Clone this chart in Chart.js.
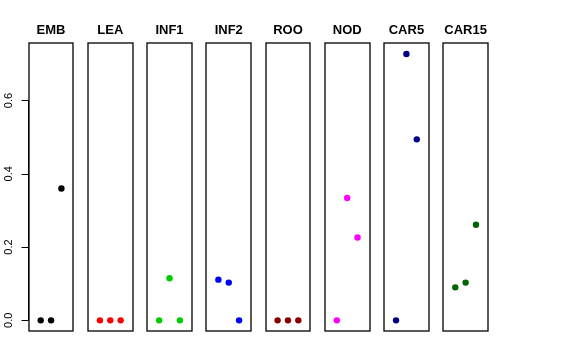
<!DOCTYPE html>
<html>
<head>
<meta charset="utf-8">
<script src="https://cdn.jsdelivr.net/npm/chart.js@4.4.1/dist/chart.umd.min.js"></script>
<style>
html,body{margin:0;padding:0;background:#fff;}
#wrap{position:relative;width:576px;height:360px;}
</style>
</head>
<body>
<div id="wrap"><canvas id="c" width="576" height="360"></canvas></div>
<script>
const panels = ['EMB','LEA','INF1','INF2','ROO','NOD','CAR5','CAR15'];
const colors = ['#000000','#FF0000','#00CD00','#0000FF','#8B0000','#FF00FF','#00008B','#006400'];
const EMB   = [0, 0, 0.36];
const LEA   = [0, 0, 0];
const INF1  = [0, 0.115, 0];
const INF2  = [0.111, 0.103, 0];
const ROO   = [0, 0, 0];
const NOD   = [0, 0.334, 0.226];
const CAR5  = [0, 0.727, 0.494];
const CAR15 = [0.09, 0.103, 0.261];
const yTicks = [0, 0.2, 0.4, 0.6];
const yTickLabels = ['0.0', '0.2', '0.4', '0.6'];

const series = [EMB, LEA, INF1, INF2, ROO, NOD, CAR5, CAR15];
const PITCH = 5.72;      // panel pitch in x units
const XLO = -0.16, XHI = 4.16; // panel x range
const yMin = -0.0291, yMax = 0.7561;

const datasets = series.map((vals, i) => ({
  label: panels[i],
  data: vals.map((v, k) => ({x: i * PITCH + (k + 1), y: v})),
  backgroundColor: colors[i],
  borderColor: colors[i],
  borderWidth: 0,
  pointRadius: 3.2,
  pointHoverRadius: 3.2,
  showLine: false
}));

const panelPlugin = {
  id: 'panels',
  afterDatasetsDraw(chart) {
    const ctx = chart.ctx;
    const xs = chart.scales.x, ys = chart.scales.y;
    const top = ys.getPixelForValue(yMax), bot = ys.getPixelForValue(yMin);
    ctx.save();
    ctx.strokeStyle = '#000';
    ctx.lineWidth = 1.3;
    panels.forEach((p, i) => {
      const l = xs.getPixelForValue(i * PITCH + XLO);
      const r = xs.getPixelForValue(i * PITCH + XHI);
      ctx.strokeRect(Math.round(l), Math.round(top), Math.round(r) - Math.round(l), Math.round(bot) - Math.round(top));
      ctx.fillStyle = '#000';
      ctx.font = 'bold 13px "Liberation Sans", Arial, sans-serif';
      ctx.textAlign = 'center';
      ctx.textBaseline = 'alphabetic';
      ctx.fillText(p, (l + r) / 2, 34);
    });
    const ax = Math.round(xs.getPixelForValue(XLO));
    const y0 = ys.getPixelForValue(yTicks[0]);
    const y1 = ys.getPixelForValue(yTicks[yTicks.length - 1]);
    ctx.lineWidth = 1;
    ctx.strokeStyle = '#000';
    ctx.beginPath();
    ctx.moveTo(ax - 0.5, y0);
    ctx.lineTo(ax - 0.5, y1);
    ctx.stroke();
    ctx.font = '11px "Liberation Sans", Arial, sans-serif';
    yTicks.forEach((t, j) => {
      const yy = Math.round(ys.getPixelForValue(t)) + 0.5;
      ctx.beginPath();
      ctx.moveTo(ax - 0.5, yy);
      ctx.lineTo(ax - 7.5, yy);
      ctx.stroke();
      ctx.save();
      ctx.translate(12, ys.getPixelForValue(t));
      ctx.rotate(-Math.PI / 2);
      ctx.textAlign = 'center';
      ctx.textBaseline = 'alphabetic';
      ctx.fillText(yTickLabels[j], 0, 0);
      ctx.restore();
    });
    ctx.restore();
  }
};

new Chart(document.getElementById('c'), {
  type: 'scatter',
  data: {datasets},
  options: {
    responsive: false,
    animation: false,
    devicePixelRatio: 1,
    layout: {padding: {left: 28.7, right: 88, top: 43.3, bottom: 29}},
    plugins: {legend: {display: false}, tooltip: {enabled: false}},
    scales: {
      x: {type: 'linear', display: false, min: XLO, max: (panels.length - 1) * PITCH + XHI},
      y: {type: 'linear', display: false, min: yMin, max: yMax}
    }
  },
  plugins: [panelPlugin]
});
</script>
</body>
</html>
